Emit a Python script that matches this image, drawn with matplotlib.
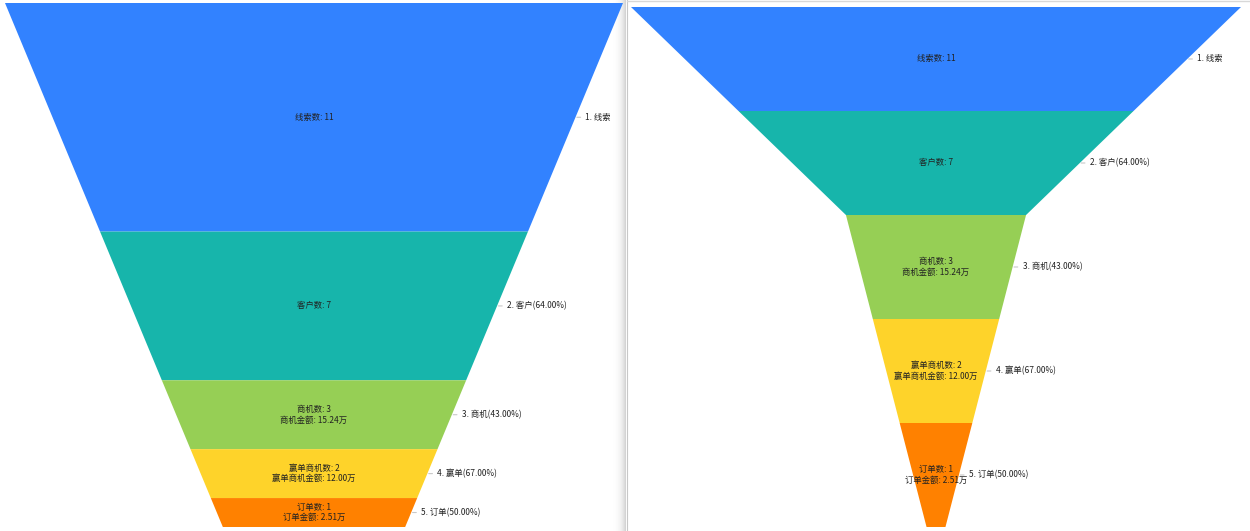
import numpy as np
import matplotlib
matplotlib.use("Agg")
import matplotlib.pyplot as plt

plt.rcParams['font.family'] = ['Noto Sans CJK SC', 'DejaVu Sans']

# data
etapas = ["线索", "客户", "商机", "赢单", "订单"]
valores = [11, 7, 3, 2, 1]
conversion = [None, "64.00%", "43.00%", "67.00%", "50.00%"]
textos = ["线索数: 11",
          "客户数: 7",
          "商机数: 3\n商机金额: 15.24万",
          "赢单商机数: 2\n赢单商机金额: 12.00万",
          "订单数: 1\n订单金额: 2.51万"]
colores = ["#3282ff", "#17b5ab", "#96cf55", "#fed32a", "#ff8100"]

W, H = 1250, 531
fig = plt.figure(figsize=(W / 100, H / 100), dpi=100)
fig.patch.set_facecolor("white")

# separador con sombra (debajo de los embudos)
axs = fig.add_axes([612 / W, 0, 14 / W, 1], zorder=0)
grad = np.linspace(0, 1, 50).reshape(1, -1) ** 2
axs.imshow(grad, cmap="Greys", vmin=0, vmax=3.5, aspect="auto",
           extent=[0, 1, 0, 1])
axs.axis("off")


def etiqueta_ext(i):
    if conversion[i] is None:
        return "%d. %s" % (i + 1, etapas[i])
    return "%d. %s(%s)" % (i + 1, etapas[i], conversion[i])


def etiquetas(ax, i, y, borde):
    ax.text(0, y, textos[i], ha="center", va="center", fontsize=6,
            color="#222222", linespacing=1.2)
    ax.annotate(etiqueta_ext(i), xy=(borde, y), xytext=(7.2, 0),
                textcoords="offset points", ha="left", va="center",
                fontsize=6, color="#222222", annotation_clip=False,
                arrowprops=dict(arrowstyle="-", color="#c8c8c8", lw=0.8,
                                shrinkA=1.5, shrinkB=1.0))


# ---- izquierda: altura segun valor, lados rectos ----
ax1 = fig.add_axes([5 / W, 4 / H, 618 / W, 524 / H], zorder=1)
alturas = [v + 0.45 for v in valores]
total = sum(alturas)
ancho_fondo = 0.295
ys = np.concatenate([[0], np.cumsum(alturas)])
anchos = 1 - (1 - ancho_fondo) * ys / total
for i in range(len(valores)):
    y0, y1 = ys[i], ys[i + 1]
    w0, w1 = anchos[i] / 2, anchos[i + 1] / 2
    ax1.fill([-w0, w0, w1, -w1], [y0, y0, y1, y1], color=colores[i], lw=0)
    ym = (y0 + y1) / 2
    borde = (w0 + w1) / 2
    etiquetas(ax1, i, ym, borde)
ax1.set_xlim(-0.5, 0.5)
ax1.set_ylim(total, 0)
ax1.axis("off")
ax1.patch.set_alpha(0)

# ---- derecha: misma altura, ancho segun valor ----
ax2 = fig.add_axes([631 / W, 4 / H, 610 / W, 520 / H], zorder=1)
min_w = 0.031
bordes = valores + [0]
anchos2 = [min_w + (1 - min_w) * v / max(valores) for v in bordes]
for i in range(len(valores)):
    w0, w1 = anchos2[i] / 2, anchos2[i + 1] / 2
    ax2.fill([-w0, w0, w1, -w1], [i, i, i + 1, i + 1], color=colores[i], lw=0)
    etiquetas(ax2, i, i + 0.5, (w0 + w1) / 2)
ax2.set_xlim(-0.5, 0.5)
ax2.set_ylim(len(valores), 0)
ax2.axis("off")

fig.add_artist(plt.Line2D([626.5 / W, 626.5 / W], [0, 1], color="#c8c8c8", lw=0.8))
fig.add_artist(plt.Line2D([627 / W, 1], [1 - 0.8 / H, 1 - 0.8 / H], color="#d8d8d8", lw=1))

fig.savefig("out.png", dpi=100)
